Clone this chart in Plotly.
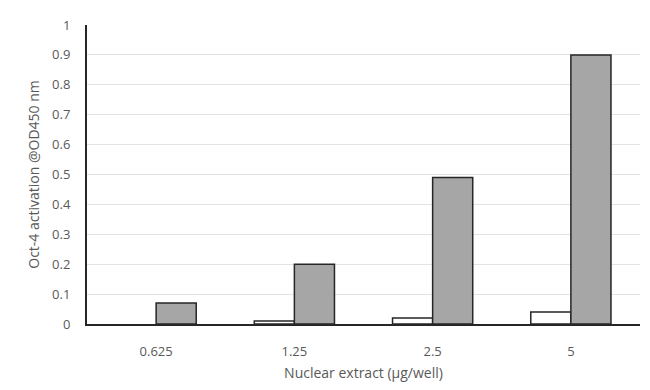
import plotly.graph_objects as go

categories = ["0.625", "1.25", "2.5", "5"]
control_values = [None, 0.01, 0.02, 0.04]
extract_values = [0.07, 0.2, 0.49, 0.9]
y_ticks = [0, 0.1, 0.2, 0.3, 0.4, 0.5, 0.6, 0.7, 0.8, 0.9, 1]
y_tick_labels = ["0", "0.1", "0.2", "0.3", "0.4", "0.5", "0.6", "0.7", "0.8", "0.9", "1"]

fig = go.Figure()
fig.add_trace(go.Bar(x=categories, y=control_values, marker=dict(color="white", line=dict(color="#262626", width=1.5))))
fig.add_trace(go.Bar(x=categories, y=extract_values, marker=dict(color="#a6a6a6", line=dict(color="#262626", width=1.5))))

font_col = "#595959"
fig.update_layout(
    width=634, height=374,
    margin=dict(l=79, r=2, t=17, b=58, autoexpand=False),
    paper_bgcolor="white", plot_bgcolor="white",
    barmode="group", bargap=0.42, bargroupgap=0,
    showlegend=False,
    font=dict(family="Open Sans, Liberation Sans, sans-serif", size=13, color=font_col),
    xaxis=dict(
        type="category",
        title=dict(text="Nuclear extract (µg/well)", font=dict(size=14, color=font_col), standoff=12),
        showline=True, linecolor="#262626", linewidth=2, ticks="", showgrid=False,
        tickfont=dict(size=13, color=font_col), automargin=True, ticklabelstandoff=14,
    ),
    yaxis=dict(
        title=dict(text="Oct-4 activation @OD450 nm", font=dict(size=14, color=font_col), standoff=9),
        range=[0, 1], tickvals=y_ticks, ticktext=y_tick_labels,
        showline=True, linecolor="#262626", linewidth=2,
        showgrid=True, gridcolor="#e3e3e3", gridwidth=1, zeroline=False,
        ticks="", tickfont=dict(size=13, color=font_col), automargin=True, ticklabelstandoff=12,
    ),
)

fig.write_html("out.html")
